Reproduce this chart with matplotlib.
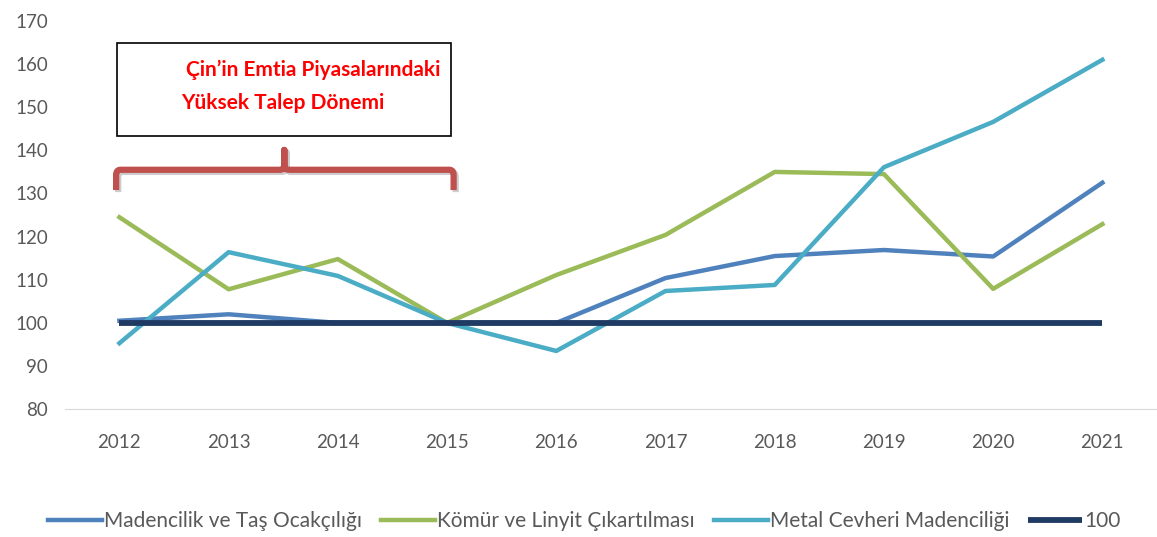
import numpy as np
import matplotlib.pyplot as plt
from matplotlib.patches import Rectangle
from matplotlib.path import Path
from matplotlib.patches import PathPatch
import matplotlib.patheffects as pe

plt.rcParams['font.family'] = ['Lato', 'DejaVu Sans']

# Veriler
years = ['2012', '2013', '2014', '2015', '2016', '2017', '2018', '2019', '2020', '2021']
madencilik = [100.5, 102, 100, 100, 100, 110.4, 115.5, 116.9, 115.4, 132.5]
komur = [124.5, 107.8, 114.8, 100, 111.1, 120.4, 135, 134.5, 107.9, 122.9]
metal = [95.3, 116.4, 110.9, 100, 93.5, 107.4, 108.8, 136.1, 146.6, 161]
baz = [100] * len(years)

labels = ['Madencilik ve Taş Ocakçılığı', 'Kömür ve Linyit Çıkartılması',
          'Metal Cevheri Madenciliği', '100']
colors = ['#4F81BD', '#9BBB59', '#4BACC6', '#1F3B64']

fig = plt.figure(figsize=(11.57, 5.37), dpi=100)
ax = fig.add_axes([0.056, 0.238, 0.944, 0.723])

x = np.arange(len(years))
ax.plot(x, madencilik, color=colors[0], lw=3.2, label=labels[0])
ax.plot(x, komur, color=colors[1], lw=3.2, label=labels[1])
ax.plot(x, metal, color=colors[2], lw=3.2, label=labels[2])
ax.plot(x, baz, color=colors[3], lw=4.2, label=labels[3], solid_capstyle='butt')

ax.set_xlim(-0.5, len(years) - 0.5)
ax.set_ylim(80, 170)
ax.set_yticks(np.arange(80, 171, 10))
ax.set_xticks(x)
ax.set_xticklabels(years)
ax.tick_params(length=0, labelsize=13.5, colors='#595959', pad=18)
ax.tick_params(axis='y', pad=12)
for s in ['top', 'right', 'left']:
    ax.spines[s].set_visible(False)
ax.spines['bottom'].set_color('#D9D9D9')

# Açıklama kutusu
ax.add_patch(Rectangle((-0.02, 143.3), 3.06, 21.6, fill=False, edgecolor='black',
                       lw=1.2, clip_on=False, zorder=5))
ax.text(1.77, 158.7, 'Çin’in Emtia Piyasalarındaki', color='#FF0000', fontsize=15,
        fontweight='bold', ha='center', va='center', zorder=6)
ax.text(1.50, 151.0, 'Yüksek Talep Dönemi', color='#FF0000', fontsize=15,
        fontweight='bold', ha='center', va='center', zorder=6)

# Köşeli parantez
yh, yl, yt = 135.5, 130.8, 140.1
xl, xr, xc = -0.03, 3.06, 1.51
r = 0.04
verts = [(xl, yl), (xl, yh - 1.2), (xl, yh), (xl + r, yh), (xc - r, yh), (xc, yh), (xc, yh + 1.2),
         (xc, yt), (xc, yh + 1.2), (xc, yh), (xc + r, yh), (xr - r, yh), (xr, yh), (xr, yh - 1.2),
         (xr, yl)]
codes = [Path.MOVETO, Path.LINETO, Path.CURVE3, Path.CURVE3, Path.LINETO, Path.CURVE3, Path.CURVE3,
         Path.LINETO, Path.LINETO, Path.CURVE3, Path.CURVE3, Path.LINETO, Path.CURVE3, Path.CURVE3,
         Path.LINETO]
bracket = PathPatch(Path(verts, codes), fill=False, edgecolor='#C0504D', lw=4.5,
                    capstyle='butt', joinstyle='round', clip_on=False, zorder=5)
bracket.set_path_effects([pe.SimpleLineShadow(offset=(1.5, -1.5), alpha=0.2), pe.Normal()])
ax.add_patch(bracket)

# Lejant
fig.legend(loc='center', bbox_to_anchor=(0.505, 0.03), ncol=4, frameon=False,
           fontsize=15, handlelength=2.6, handletextpad=0.1, columnspacing=0.9,
           labelcolor='#595959')

plt.savefig('out.png', dpi=100)
